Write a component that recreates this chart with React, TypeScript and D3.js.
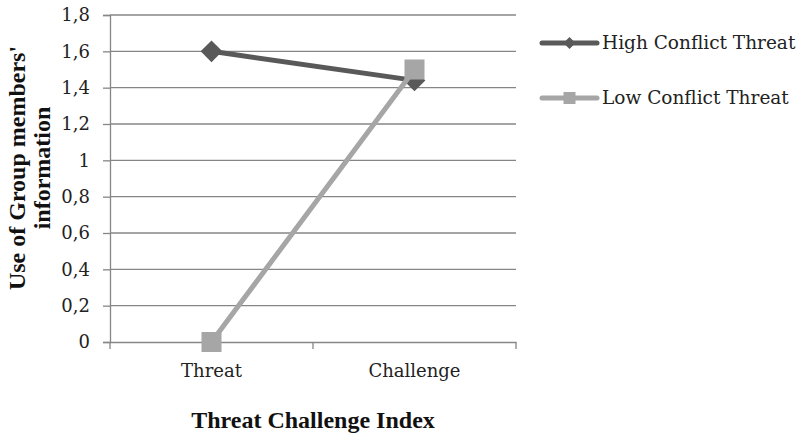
import { useEffect, useRef } from "react";
import * as d3 from "d3";

const categories = ["Threat", "Challenge"];
const highConflict = [1.6, 1.44];
const lowConflict = [0, 1.5];
const yTicks = [0, 0.2, 0.4, 0.6, 0.8, 1, 1.2, 1.4, 1.6, 1.8];
const seriesNames = ["High Conflict Threat", "Low Conflict Threat"];

const FONT = "'DejaVu Serif', serif";
const BOLD_FONT = "'Liberation Serif', 'DejaVu Serif', serif";

export default function App() {
  const ref = useRef<SVGSVGElement>(null);
  const width = 802;
  const height = 436;
  const margin = { top: 15, right: 286, bottom: 94, left: 110 };

  useEffect(() => {
    if (!ref.current) return;
    const svg = d3.select(ref.current);
    svg.selectAll("*").remove();

    const x = d3
      .scaleBand()
      .domain(categories)
      .range([margin.left, width - margin.right]);
    const y = d3
      .scaleLinear()
      .domain([0, 1.8])
      .range([height - margin.bottom, margin.top]);

    const grid = "#868686";

    // gridlines
    svg
      .append("g")
      .selectAll("line")
      .data(yTicks.slice(1))
      .join("line")
      .attr("x1", margin.left)
      .attr("x2", width - margin.right)
      .attr("y1", (d) => y(d))
      .attr("y2", (d) => y(d))
      .attr("stroke", grid)
      .attr("stroke-width", 1.3);

    // y axis
    const yAxis = svg
      .append("g")
      .attr("transform", `translate(${margin.left},0)`)
      .call(
        d3
          .axisLeft(y)
          .tickValues(yTicks)
          .tickSize(7)
          .tickPadding(13)
          .tickFormat((d) => String(d).replace(".", ","))
      );
    yAxis.select(".domain").attr("stroke", grid).attr("stroke-width", 1.3);
    yAxis.selectAll(".tick line").attr("stroke", grid).attr("stroke-width", 1.3);
    yAxis
      .selectAll(".tick text")
      .attr("font-family", FONT)
      .attr("font-size", 18)
      .attr("fill", "#222")
      .attr("dy", "0.33em");

    // x axis
    const xAxis = svg
      .append("g")
      .attr("transform", `translate(0,${y(0)})`)
      .call(d3.axisBottom(x).tickSize(0).tickPadding(22));
    xAxis.select(".domain").attr("stroke", grid).attr("stroke-width", 1.3);
    xAxis
      .selectAll(".tick text")
      .attr("font-family", FONT)
      .attr("font-size", 18)
      .attr("fill", "#222");
    const bounds = [...categories.map((c) => x(c) as number), x.range()[1]];
    svg
      .append("g")
      .selectAll("line")
      .data(bounds)
      .join("line")
      .attr("x1", (d) => d)
      .attr("x2", (d) => d)
      .attr("y1", y(0))
      .attr("y2", y(0) + 7)
      .attr("stroke", grid)
      .attr("stroke-width", 1.3);

    const cx = (i: number) => (x(categories[i]) as number) + x.bandwidth() / 2;
    const line = d3
      .line<number>()
      .x((_, i) => cx(i))
      .y((d) => y(d));

    const dark = "#595959";
    const light = "#a6a6a6";

    // high conflict series
    svg
      .append("path")
      .attr("d", line(highConflict))
      .attr("fill", "none")
      .attr("stroke", dark)
      .attr("stroke-width", 5)
      .attr("stroke-linecap", "round");
    svg
      .append("g")
      .selectAll("path")
      .data(highConflict)
      .join("path")
      .attr("d", d3.symbol(d3.symbolDiamond2, 300)() as string)
      .attr("transform", (d, i) => `translate(${cx(i)},${y(d)})`)
      .attr("fill", dark);

    // low conflict series
    svg
      .append("path")
      .attr("d", line(lowConflict))
      .attr("fill", "none")
      .attr("stroke", light)
      .attr("stroke-width", 5)
      .attr("stroke-linecap", "round");
    svg
      .append("g")
      .selectAll("rect")
      .data(lowConflict)
      .join("rect")
      .attr("x", (_, i) => cx(i) - 10)
      .attr("y", (d) => y(d) - 10)
      .attr("width", 20)
      .attr("height", 20)
      .attr("fill", light);

    // legend
    const legend = svg.append("g").attr("transform", "translate(542,0)");
    const rows = [
      { name: seriesNames[0], color: dark, y: 43, kind: "diamond" },
      { name: seriesNames[1], color: light, y: 98, kind: "square" },
    ];
    rows.forEach((r) => {
      legend
        .append("line")
        .attr("x1", 0)
        .attr("x2", 55)
        .attr("y1", r.y)
        .attr("y2", r.y)
        .attr("stroke", r.color)
        .attr("stroke-width", 5)
        .attr("stroke-linecap", "round");
      if (r.kind === "diamond") {
        legend
          .append("path")
          .attr("d", d3.symbol(d3.symbolDiamond2, 90)() as string)
          .attr("transform", `translate(27.5,${r.y})`)
          .attr("fill", r.color);
      } else {
        legend
          .append("rect")
          .attr("x", 21.5)
          .attr("y", r.y - 6)
          .attr("width", 12)
          .attr("height", 12)
          .attr("fill", r.color);
      }
      legend
        .append("text")
        .attr("x", 60)
        .attr("y", r.y + 6)
        .attr("font-family", FONT)
        .attr("font-size", 18.5)
        .attr("fill", "#222")
        .text(r.name);
    });

    // axis titles
    svg
      .append("text")
      .attr("x", (margin.left + width - margin.right) / 2)
      .attr("y", 428)
      .attr("text-anchor", "middle")
      .attr("font-family", BOLD_FONT)
      .attr("font-weight", "bold")
      .attr("font-size", 24)
      .attr("fill", "#111")
      .text("Threat Challenge Index");

    const yTitle = svg
      .append("text")
      .attr("transform", "translate(0,168) rotate(-90)")
      .attr("text-anchor", "middle")
      .attr("font-family", BOLD_FONT)
      .attr("font-weight", "bold")
      .attr("font-size", 24)
      .attr("fill", "#111");
    yTitle.append("tspan").attr("x", 0).attr("y", 25).text("Use of Group members'");
    yTitle.append("tspan").attr("x", 0).attr("y", 50).text("information");
  }, []);

  return (
    <svg
      ref={ref}
      width={width}
      height={height}
      style={{ position: "absolute", left: 0, top: 0, background: "#fff" }}
    />
  );
}
